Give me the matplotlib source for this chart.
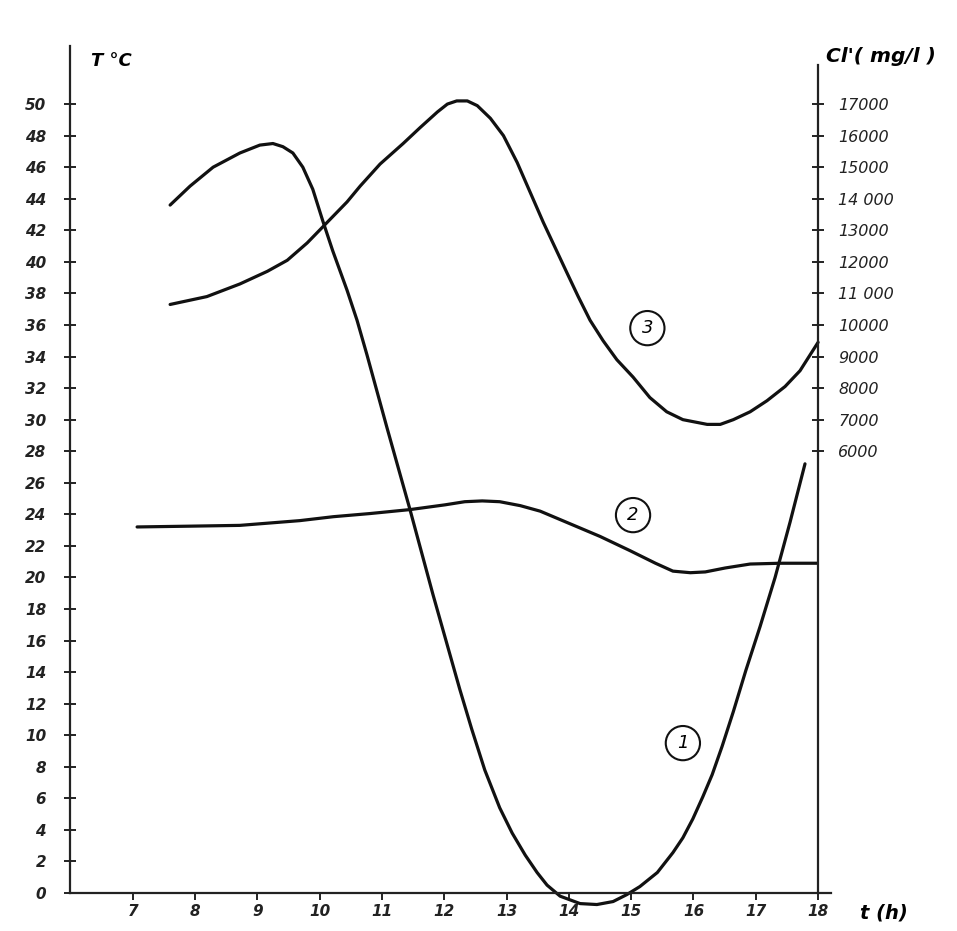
import matplotlib
matplotlib.use("Agg")
import matplotlib.pyplot as plt

# ── 데이터 ─────────────────────────────────────────────────────────
# 곡선 1 : T °C
t1 = [7.60, 7.92, 8.29, 8.72, 9.04, 9.25, 9.41, 9.57, 9.73, 9.89, 10.05,
      10.21, 10.44, 10.60, 10.76, 11.08, 11.45, 11.82, 12.25, 12.44, 12.65,
      12.89, 13.09, 13.30, 13.49, 13.65, 13.86, 14.18, 14.45, 14.71, 14.93,
      15.14, 15.42, 15.67, 15.83, 15.99, 16.15, 16.30, 16.46, 16.64, 16.84,
      17.07, 17.31, 17.55, 17.79]
T1 = [43.6, 44.8, 46.0, 46.9, 47.4, 47.5, 47.3, 46.9, 46.0, 44.6, 42.6,
      40.7, 38.2, 36.3, 34.1, 29.5, 24.3, 18.9, 12.9, 10.4, 7.8,
      5.4, 3.8, 2.4, 1.3, 0.5, -0.2, -0.67, -0.73, -0.54, -0.1,
      0.41, 1.3, 2.56, 3.5, 4.7, 6.1, 7.5, 9.3, 11.5, 14.1,
      16.9, 20.0, 23.5, 27.2]

# 곡선 2 : T °C
t2 = [7.07, 7.92, 8.72, 9.68, 10.22, 10.81, 11.45, 12.01, 12.33, 12.61,
      12.89, 13.22, 13.54, 14.02, 14.50, 14.98, 15.39, 15.67, 15.95, 16.19,
      16.51, 16.91, 17.39, 17.98]
T2 = [23.2, 23.25, 23.3, 23.6, 23.85, 24.05, 24.3, 24.6, 24.8, 24.85,
      24.8, 24.55, 24.2, 23.4, 22.6, 21.7, 20.9, 20.4, 20.3, 20.35,
      20.6, 20.85, 20.9, 20.9]

# 곡선 3 : Cl' (mg/l)
t3 = [7.60, 8.19, 8.72, 9.16, 9.48, 9.80, 10.12, 10.44, 10.65, 10.97,
      11.34, 11.61, 11.89, 12.05, 12.20, 12.37, 12.53, 12.74, 12.95, 13.17,
      13.38, 13.59, 13.78, 13.97, 14.15, 14.34, 14.55, 14.77, 15.03, 15.30,
      15.57, 15.83, 16.22, 16.43, 16.64, 16.91, 17.18, 17.47, 17.71, 18.00]
Cl3 = [10650, 10900, 11300, 11700, 12050, 12600, 13250, 13900, 14400, 15100,
       15750, 16250, 16750, 17000, 17100, 17100, 16950, 16550, 16000, 15150,
       14200, 13250, 12450, 11650, 10900, 10150, 9500, 8900, 8350, 7700,
       7250, 7000, 6850, 6850, 7000, 7250, 7600, 8050, 8550, 9450]

x_ticks = list(range(7, 19))
T_ticks = list(range(0, 51, 2))
Cl_ticks = list(range(6000, 17001, 1000))
Cl_labels = ["6000", "7000", "8000", "9000", "10000", "11 000", "12000",
             "13000", "14 000", "15000", "16000", "17000"]

# 오른쪽 축 눈금 = 왼쪽 축과 같은 높이 (17000 ↔ 50, 6000 ↔ 28)
def t_to_cl(v):
    return 500 * v - 8000

FONT = dict(family="DejaVu Sans", style="oblique", weight="bold")
INK = "#111111"

fig = plt.figure(figsize=(9.57, 9.31), dpi=100)
ax = fig.add_axes([0.0736, 0.0069, 0.8203, 0.983])
ax.set_xlim(6, 18.6)
ax.set_ylim(-2, 56)

lw = 2.3
ax.plot(t1, T1, color=INK, lw=lw, solid_capstyle="round",
        solid_joinstyle="round", clip_on=False)
ax.plot(t2, T2, color=INK, lw=lw, solid_capstyle="round",
        solid_joinstyle="round", clip_on=False)

ax2 = ax.twinx()
ax2.set_ylim(t_to_cl(-2), t_to_cl(56))
ax2.plot(t3, Cl3, color=INK, lw=lw, solid_capstyle="round",
         solid_joinstyle="round", clip_on=False)

# 축 모양
for s in ["top", "right"]:
    ax.spines[s].set_visible(False)
for s in ["top", "left", "bottom"]:
    ax2.spines[s].set_visible(False)
ax.spines["left"].set_bounds(0, 53.7)
ax.spines["bottom"].set_position(("data", 0))
ax.spines["bottom"].set_bounds(6, 18.2)
ax2.spines["right"].set_position(("data", 18))
ax2.spines["right"].set_bounds(t_to_cl(0), t_to_cl(52.5))
for sp in [ax.spines["left"], ax.spines["bottom"], ax2.spines["right"]]:
    sp.set_linewidth(1.6)
    sp.set_color("#222222")

ax.set_yticks(T_ticks)
ax.set_yticklabels([str(v) for v in T_ticks], fontsize=11, **FONT)
ax.tick_params(axis="y", direction="inout", length=9, width=1.4, pad=13,
               colors="#222222")
ax.set_xticks(x_ticks)
ax.set_xticklabels([str(v) for v in x_ticks], fontsize=11, **FONT)
ax.tick_params(axis="x", direction="out", length=5, width=1.4, pad=3,
               colors="#222222")

ax2.set_yticks(Cl_ticks)
ax2.set_yticklabels(Cl_labels, fontsize=11.5, family="DejaVu Sans",
                    style="oblique")
ax2.tick_params(axis="y", direction="inout", length=9, width=1.4, pad=10,
                colors="#222222")

# 축 제목
ax.text(6.33, 52.7, "T °C", fontsize=13, ha="left", va="center", **FONT)
ax.text(18.13, 53.0, "Cl'( mg/l )", fontsize=14.5, ha="left", va="center",
        **FONT)
ax.text(18.68, -1.25, "t (h)", fontsize=14, ha="left", va="center", **FONT)

# 곡선 번호
for num, (tx, ty) in zip(["3", "2", "1"], [(15.26, 35.8), (15.03, 23.95),
                                           (15.83, 9.5)]):
    ax.text(tx, ty, num, fontsize=13, ha="center", va="center",
            family="DejaVu Sans", style="oblique",
            bbox=dict(boxstyle="circle,pad=0.45", fc="white", ec=INK,
                      lw=1.5))

plt.savefig("out.png", dpi=100)
plt.close()
